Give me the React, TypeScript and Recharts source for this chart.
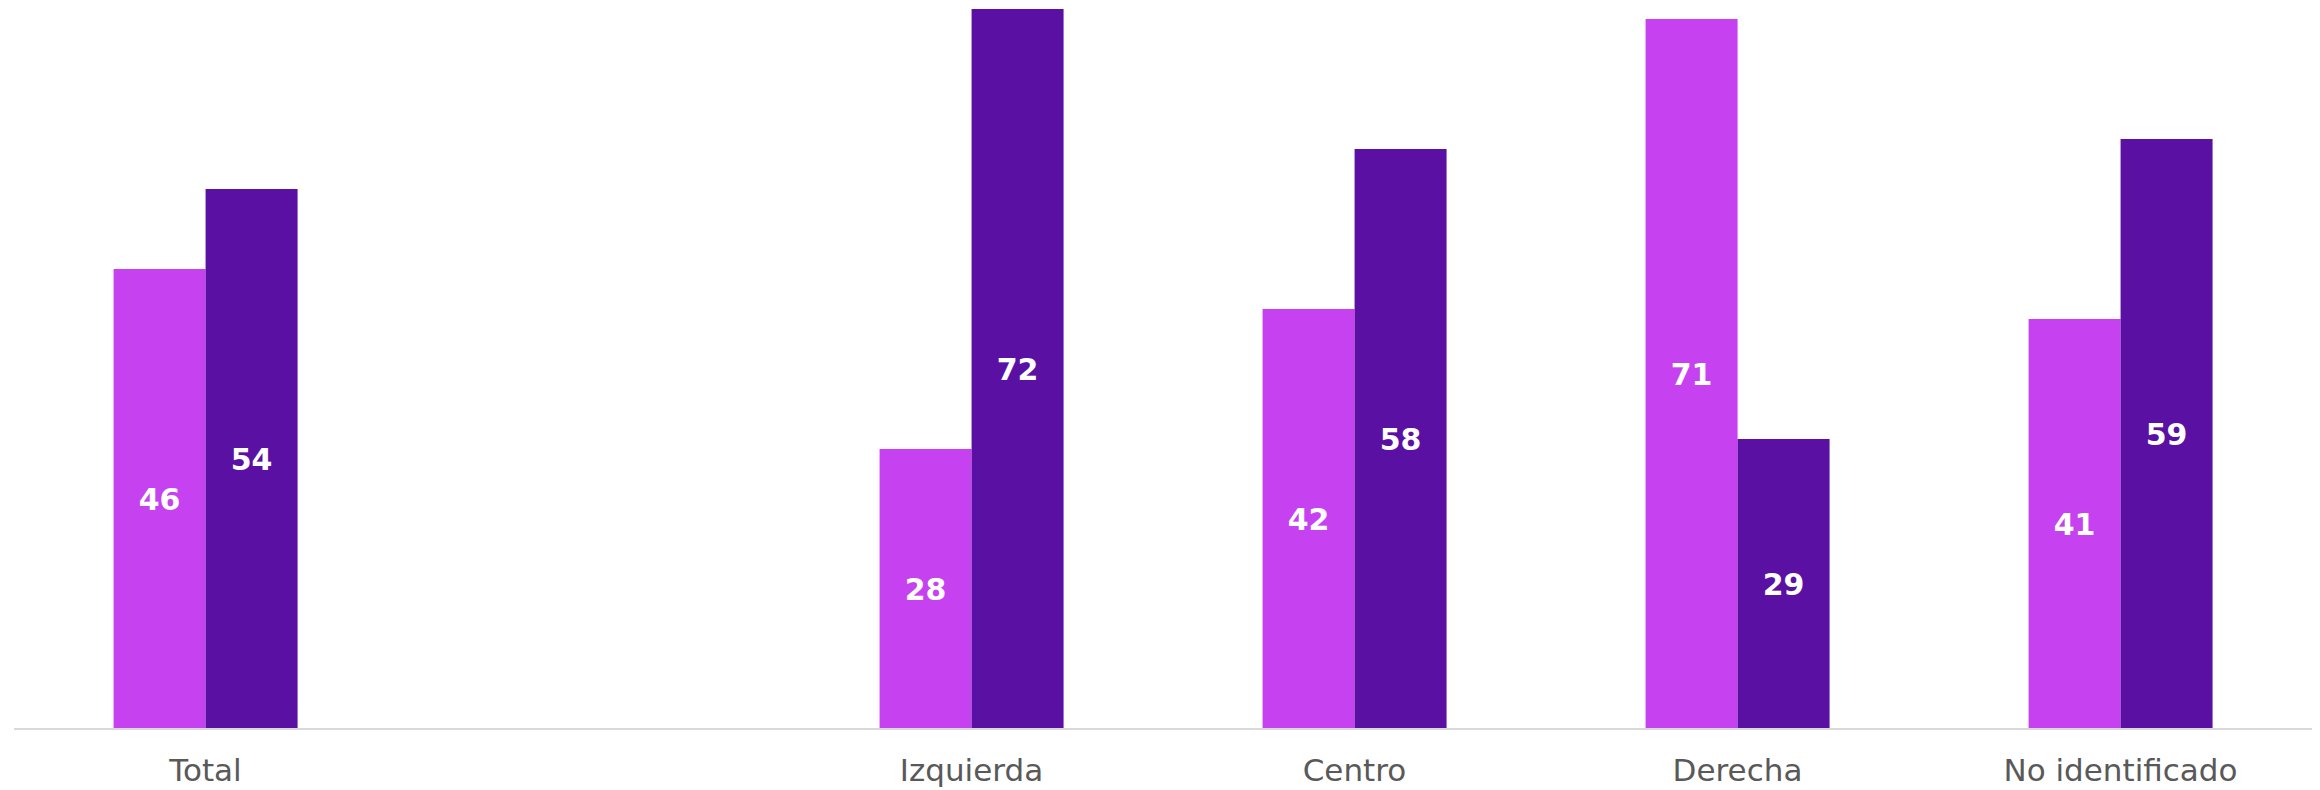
import * as React from "react";
import { Bar, BarChart, LabelList, XAxis, YAxis } from "recharts";

const categories = ["Total", "", "Izquierda", "Centro", "Derecha", "No identificado"];
const lightValues = [46, null, 28, 42, 71, 41];
const darkValues = [54, null, 72, 58, 29, 59];

const LIGHT = "#C641F0";
const DARK = "#5A10A3";

const data = categories.map((name, i) => ({
  name,
  light: lightValues[i],
  dark: darkValues[i],
}));

const fmt = (v: unknown) => (v == null ? "" : String(v));

export default function App() {
  return (
    <div style={{ width: 2320, height: 790, background: "#fff" }}>
      <style>{`body{margin:0}`}</style>
      <BarChart
        width={2320}
        height={790}
        data={data}
        margin={{ top: 9, right: 8, bottom: 0, left: 14 }}
        barCategoryGap="26%"
        barGap={0}
      >
        <XAxis
          dataKey="name"
          height={61}
          axisLine={{ stroke: "#D9D9D9", strokeWidth: 2 }}
          tickLine={false}
          tickMargin={24}
          tick={{ fontSize: 31, fill: "#595959", fontFamily: "DejaVu Sans" }}
          interval={0}
        />
        <YAxis hide domain={[0, 72]} />
        <Bar dataKey="light" fill={LIGHT} isAnimationActive={false}>
          <LabelList
            dataKey="light"
            position="center"
            formatter={fmt}
            fill="#fff"
            fontSize={30}
            fontWeight="bold"
            fontFamily="DejaVu Sans"
          />
        </Bar>
        <Bar dataKey="dark" fill={DARK} isAnimationActive={false}>
          <LabelList
            dataKey="dark"
            position="center"
            formatter={fmt}
            fill="#fff"
            fontSize={30}
            fontWeight="bold"
            fontFamily="DejaVu Sans"
          />
        </Bar>
      </BarChart>
    </div>
  );
}
